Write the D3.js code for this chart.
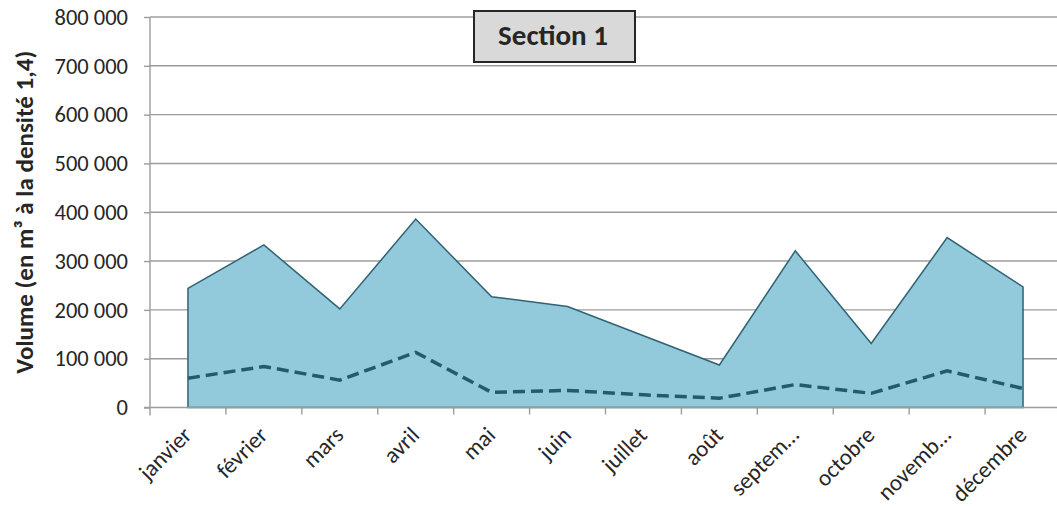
<!DOCTYPE html>
<html>
<head>
<meta charset="utf-8">
<script src="https://cdn.jsdelivr.net/npm/d3@7"></script>
<style>
  html, body { margin: 0; padding: 0; background: #fff; }
  svg { display: block; font-family: Carlito, Calibri, Lato, sans-serif; }
</style>
</head>
<body>
<svg id="chart" width="1057" height="507"></svg>
<script>
// Monthly categories
const months = ["janvier", "février", "mars", "avril", "mai", "juin", "juillet", "août", "septembre", "octobre", "novembre", "décembre"];
// Labels as displayed on the category axis
const monthLabels = ["janvier", "février", "mars", "avril", "mai", "juin", "juillet", "août", "septem…", "octobre", "novemb…", "décembre"];
// Total volume (area series)
const volumeTotal = [244000, 333000, 202000, 386000, 227000, 207000, 147000, 87000, 321000, 131000, 348000, 247000];
// Secondary volume (dashed line series)
const volumeSecondary = [60000, 84000, 56000, 113000, 31000, 35000, 26000, 19000, 47000, 29000, 75000, 39000];
// Value axis ticks
const yTicks = [0, 100000, 200000, 300000, 400000, 500000, 600000, 700000, 800000];

const svg = d3.select("#chart");
const plotLeft = 150, plotRight = 1061, plotTop = 17, plotBottom = 407.5;
const fontStack = "Carlito, Calibri, Lato, sans-serif";
const gridColor = "#9c9c9c";
const textColor = "#262626";

const x = d3.scaleBand().domain(months).range([plotLeft, plotRight]).paddingInner(0).paddingOuter(0);
const y = d3.scaleLinear().domain([0, 800000]).range([plotBottom, plotTop]);
const cx = d => x(d) + x.bandwidth() / 2;

const fr = d3.formatLocale({ decimal: ",", thousands: "\u00a0", grouping: [3], currency: ["", " €"] });
const fmt = fr.format(",");

// Horizontal gridlines
svg.append("g")
  .selectAll("line")
  .data(yTicks.filter(v => v > 0))
  .join("line")
  .attr("x1", plotLeft).attr("x2", plotRight)
  .attr("y1", d => y(d)).attr("y2", d => y(d))
  .attr("stroke", gridColor).attr("stroke-width", 1.4);

const data = months.map((m, i) => ({ m, total: volumeTotal[i], sec: volumeSecondary[i] }));

// Area series
svg.append("path")
  .datum(data)
  .attr("d", d3.area().x(d => cx(d.m)).y0(y(0)).y1(d => y(d.total)))
  .attr("fill", "#92cadb")
  .attr("stroke", "#2f6373")
  .attr("stroke-width", 1.5)
  .attr("stroke-linejoin", "miter");

// Dashed line series
svg.append("path")
  .datum(data)
  .attr("d", d3.line().x(d => cx(d.m)).y(d => y(d.sec)))
  .attr("fill", "none")
  .attr("stroke", "#235b6b")
  .attr("stroke-width", 3.5)
  .attr("stroke-dasharray", "12,6");

// Value axis
const yAxis = svg.append("g")
  .attr("transform", `translate(${plotLeft},0)`)
  .call(d3.axisLeft(y).tickValues(yTicks).tickFormat(fmt).tickSize(6).tickPadding(16));
yAxis.select(".domain").attr("d", `M0,${plotTop}V${plotBottom + 8}`).attr("stroke", gridColor).attr("stroke-width", 1.4);
yAxis.selectAll(".tick line").attr("stroke", gridColor).attr("stroke-width", 1.4);
yAxis.selectAll(".tick text").attr("font-size", 22.5).attr("fill", textColor).attr("font-family", fontStack);

// Category axis
const xAxis = svg.append("g")
  .attr("transform", `translate(0,${plotBottom})`)
  .call(d3.axisBottom(x).tickSize(0).tickFormat((d, i) => monthLabels[i]));
xAxis.select(".domain").attr("d", `M${plotLeft - 6},0H${plotRight}`).attr("stroke", gridColor).attr("stroke-width", 1.4);
xAxis.selectAll(".tick text")
  .attr("font-size", 23)
  .attr("fill", textColor)
  .attr("font-family", fontStack)
  .attr("text-anchor", "end")
  .attr("dy", null)
  .attr("y", 0)
  .attr("transform", "translate(5,29) rotate(-45)");

// Tick marks between categories
svg.append("g")
  .selectAll("line")
  .data(months.slice(1))
  .join("line")
  .attr("x1", d => x(d)).attr("x2", d => x(d))
  .attr("y1", plotBottom).attr("y2", plotBottom + 7)
  .attr("stroke", gridColor).attr("stroke-width", 1.4);

// Value axis title
svg.append("text")
  .attr("transform", `translate(33,${(plotTop + plotBottom) / 2}) rotate(-90)`)
  .attr("text-anchor", "middle")
  .attr("font-size", 25)
  .attr("font-weight", "bold")
  .attr("fill", textColor)
  .text("Volume (en m³ à la densité 1,4)");

// Title box
const tb = svg.append("g");
tb.append("rect")
  .attr("x", 474).attr("y", 11).attr("width", 161).attr("height", 51)
  .attr("fill", "#d9d9d9").attr("stroke", textColor).attr("stroke-width", 2);
tb.append("text")
  .attr("x", 553).attr("y", 45)
  .attr("text-anchor", "middle")
  .attr("font-size", 29)
  .attr("font-weight", "bold")
  .attr("fill", textColor)
  .text("Section 1");
</script>
</body>
</html>
